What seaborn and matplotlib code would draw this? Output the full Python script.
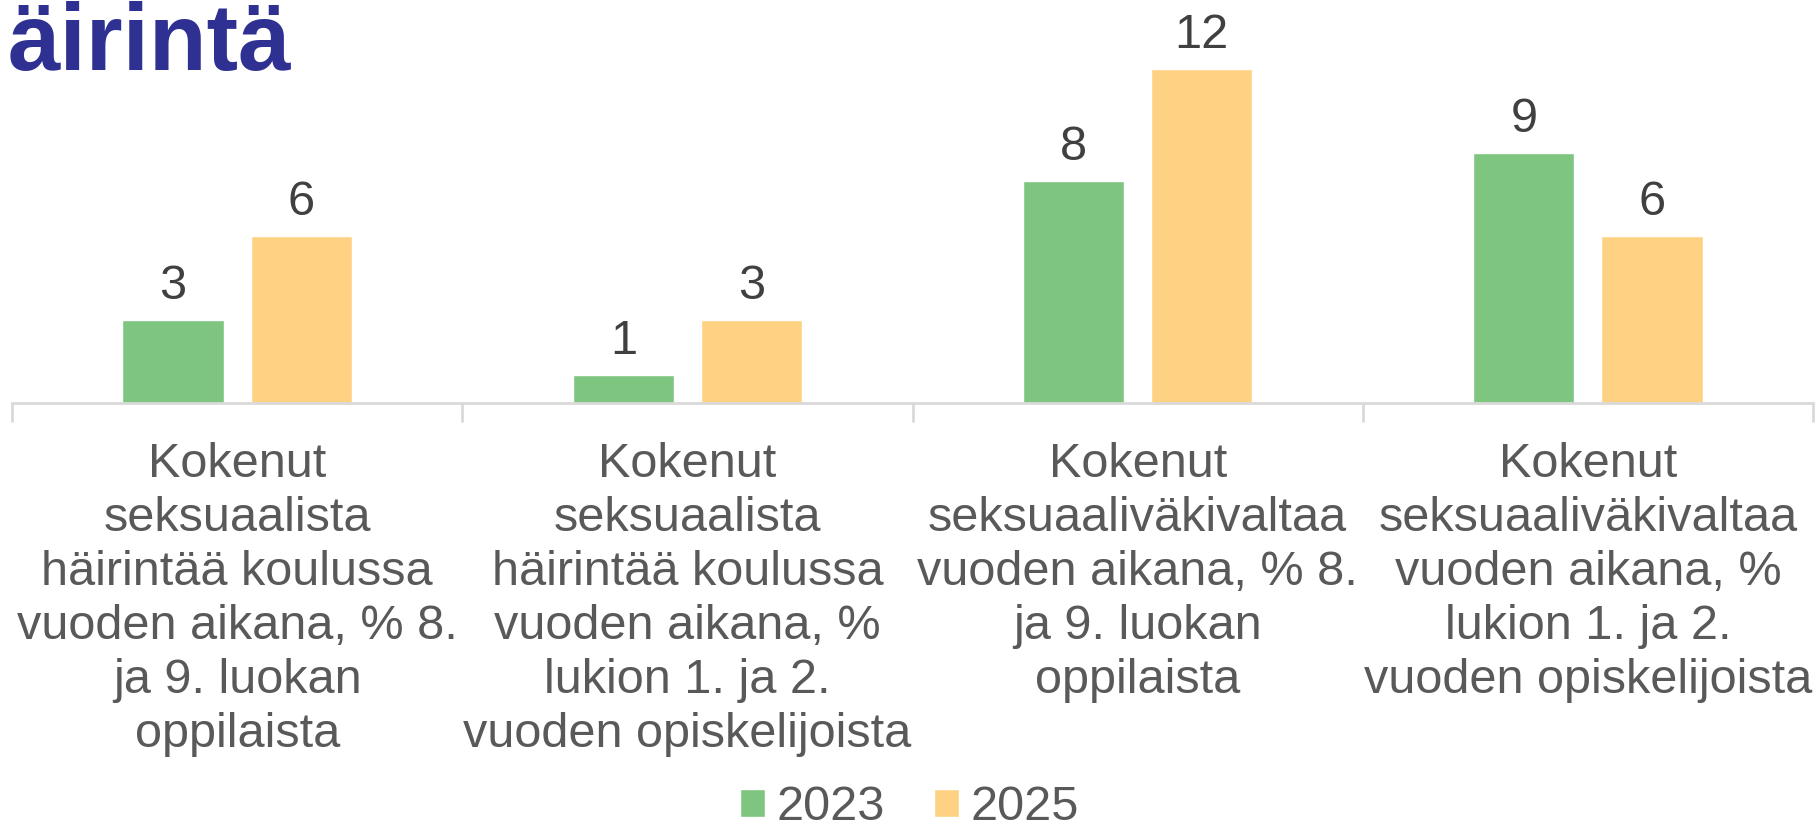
import pandas as pd
import matplotlib.pyplot as plt
import seaborn as sns

categories = [
    "Kokenut\nseksuaalista\nhäirintää koulussa\nvuoden aikana, % 8.\nja 9. luokan\noppilaista",
    "Kokenut\nseksuaalista\nhäirintää koulussa\nvuoden aikana, %\nlukion 1. ja 2.\nvuoden opiskelijoista",
    "Kokenut\nseksuaaliväkivaltaa\nvuoden aikana, % 8.\nja 9. luokan\noppilaista",
    "Kokenut\nseksuaaliväkivaltaa\nvuoden aikana, %\nlukion 1. ja 2.\nvuoden opiskelijoista",
]
years = ["2023", "2025"]
values_2023 = [3, 1, 8, 9]
values_2025 = [6, 3, 12, 6]
colors = ["#7EC680", "#FFD182"]

df = pd.DataFrame({
    "kategoria": categories * 2,
    "vuosi": [years[0]] * 4 + [years[1]] * 4,
    "arvo": values_2023 + values_2025,
})

sns.set_style("white")
plt.rcParams['font.family'] = ['Liberation Sans', 'DejaVu Sans']

fig = plt.figure(figsize=(18.19, 8.32), dpi=100)
ax = fig.add_axes([12 / 1819, 1 - 403 / 832, 1801 / 1819, 403 / 832])

sns.barplot(data=df, x="kategoria", y="arvo", hue="vuosi", palette=colors,
            width=0.569, gap=0.21, ax=ax, saturation=1, legend=True)

for cont in ax.containers:
    ax.bar_label(cont, fmt="%d", padding=8, fontsize=35, color="#404040")

ax.set_ylim(0, 14.5)
ax.set_xlim(-0.5, 3.5)
ax.set_xlabel("")
ax.set_ylabel("")
ax.set_yticks([])
for s in ["top", "right", "left"]:
    ax.spines[s].set_visible(False)
ax.spines["bottom"].set_color("#D9D9D9")
ax.spines["bottom"].set_linewidth(2)

ax.set_xticks(range(4))
ax.set_xticklabels(categories, fontsize=35, color="#595959", linespacing=1.26)
ax.tick_params(axis="x", which="major", length=0, pad=28)
ax.set_xticks([-0.5, 0.5, 1.5, 2.5, 3.5], minor=True)
ax.tick_params(axis="x", which="minor", bottom=True, length=14, width=2, color="#D9D9D9")

ax.legend(loc="center", bbox_to_anchor=(0.5, 1 - 808 / 832), bbox_transform=fig.transFigure,
          ncol=2, frameon=False, fontsize=35, labelcolor="#595959",
          handlelength=0.51, handleheight=0.51, handletextpad=0.25, columnspacing=1.0,
          borderpad=0, borderaxespad=0)

# otsikosta näkyy vain loppuosa
fig.text(291 / 1819, 1 - 70 / 832, "äirintä", ha="right", va="baseline",
         fontsize=68, fontweight="bold", color="#2E3192")

fig.savefig("out.png", dpi=100)
